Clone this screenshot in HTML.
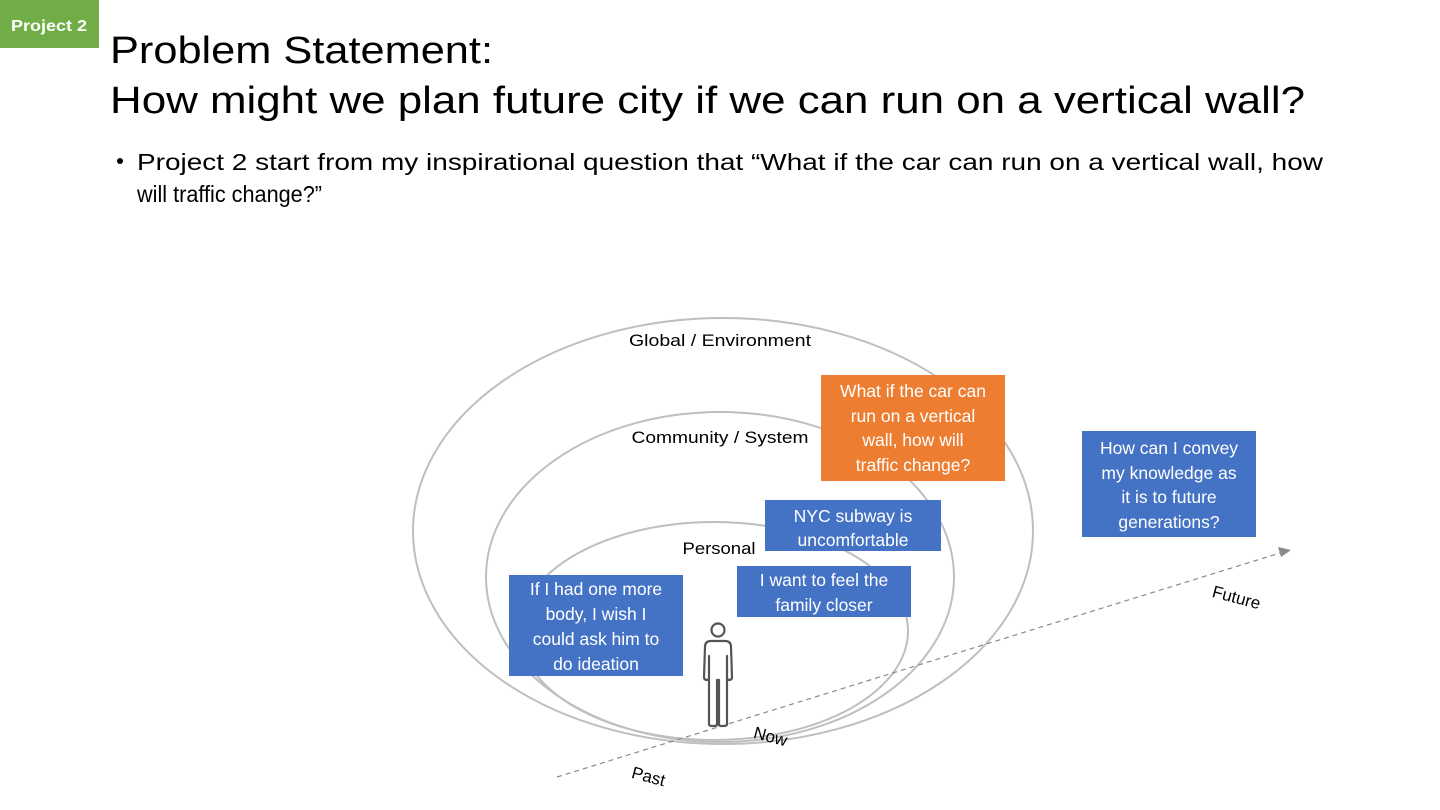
<!DOCTYPE html>
<html><head><meta charset="utf-8"><style>
html,body{margin:0;padding:0;background:#fff;}
svg{display:block;font-family:"Liberation Sans",sans-serif;}
</style></head><body>
<svg width="1440" height="810" viewBox="0 0 1440 810" xmlns="http://www.w3.org/2000/svg">
<rect x="0" y="0" width="99" height="48" fill="#70AD47"/>
<text x="49" y="31" font-size="16" font-weight="bold" fill="#fff" text-anchor="middle" textLength="76" lengthAdjust="spacingAndGlyphs">Project 2</text>
<text x="110" y="63" font-size="38" fill="#000" textLength="383" lengthAdjust="spacingAndGlyphs">Problem Statement:</text>
<text x="110" y="113" font-size="38" fill="#000" font-weight="300" textLength="1195" lengthAdjust="spacingAndGlyphs">How might we plan future city if we can run on a vertical wall?</text>
<circle cx="120" cy="161" r="3" fill="#000"/>
<text x="137" y="170" font-size="23" fill="#000" textLength="1186" lengthAdjust="spacingAndGlyphs">Project 2 start from my inspirational question that “What if the car can run on a vertical wall, how</text>
<text x="137" y="202" font-size="23" fill="#000" textLength="185" lengthAdjust="spacingAndGlyphs">will traffic change?”</text>

<g fill="none" stroke="#BFBFBF" stroke-width="2">
<ellipse cx="723" cy="531" rx="310" ry="213"/>
<ellipse cx="720" cy="577" rx="234" ry="165"/>
<ellipse cx="714" cy="631" rx="194" ry="109"/>
</g>
<line x1="557" y1="777" x2="1280" y2="553" stroke="#8a8a8a" stroke-width="1.2" stroke-dasharray="5,4"/>
<polygon points="1291,550 1278,547 1281,557" fill="#8a8a8a"/>

<g font-size="17" fill="#000" text-anchor="middle">
<text x="720" y="346" textLength="182" lengthAdjust="spacingAndGlyphs">Global / Environment</text>
<text x="720" y="443" textLength="177" lengthAdjust="spacingAndGlyphs">Community / System</text>
<text x="719" y="554" textLength="73" lengthAdjust="spacingAndGlyphs">Personal</text>
<text transform="translate(769,742) rotate(15)">Now</text>
<text transform="translate(647,782) rotate(15)">Past</text>
<text transform="translate(1235,603) rotate(15)">Future</text>
</g>

<rect x="821" y="375" width="184" height="106" fill="#ED7D31"/>
<rect x="1082" y="431" width="174" height="106" fill="#4472C4"/>
<rect x="765" y="500" width="176" height="51" fill="#4472C4"/>
<rect x="737" y="566" width="174" height="51" fill="#4472C4"/>
<rect x="509" y="575" width="174" height="101" fill="#4472C4"/>
<g font-size="17.5" fill="#fff" text-anchor="middle">
<text x="913" y="397">What if the car can</text>
<text x="913" y="422">run on a vertical</text>
<text x="913" y="446">wall, how will</text>
<text x="913" y="471">traffic change?</text>
<text x="1169" y="454">How can I convey</text>
<text x="1169" y="479">my knowledge as</text>
<text x="1169" y="503">it is to future</text>
<text x="1169" y="528">generations?</text>
<text x="853" y="522">NYC subway is</text>
<text x="853" y="546">uncomfortable</text>
<text x="824" y="586">I want to feel the</text>
<text x="824" y="611">family closer</text>
<text x="596" y="595">If I had one more</text>
<text x="596" y="620">body, I wish I</text>
<text x="596" y="645">could ask him to</text>
<text x="596" y="670">do ideation</text>
</g>

<g fill="none" stroke="#555" stroke-width="2.2" stroke-linejoin="round">
<circle cx="718" cy="630" r="6.5"/>
<path d="M711,641 L725,641 Q731,641 731,647 L732,677 Q732,680 729,680 L727,679 L727,656 L727,724 Q727,726 724,726 L721,726 Q719,726 719,724 L719,680 L717,680 L717,724 Q717,726 715,726 L712,726 Q709,726 709,724 L709,656 L709,679 L707,680 Q704,680 704,677 L705,647 Q705,641 711,641 Z"/>
</g>
</svg>
</body></html>
